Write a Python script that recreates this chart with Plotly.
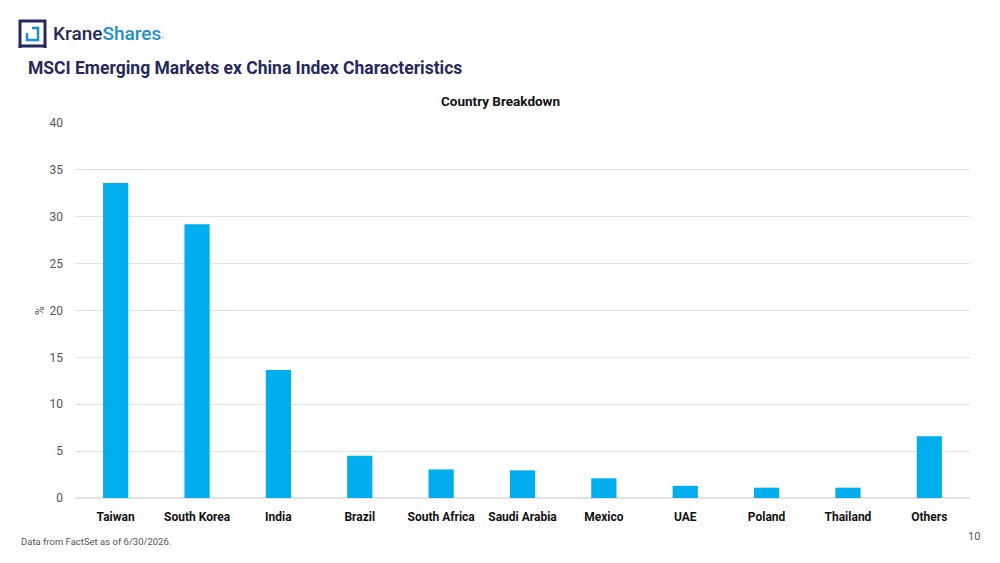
import plotly.graph_objects as go

countries = ["Taiwan", "South Korea", "India", "Brazil", "South Africa", "Saudi Arabia",
             "Mexico", "UAE", "Poland", "Thailand", "Others"]
weights = [33.6, 29.2, 13.65, 4.5, 3.05, 2.95, 2.1, 1.3, 1.1, 1.1, 6.6]
y_ticks = [0, 5, 10, 15, 20, 25, 30, 35, 40]

W, H = 1000, 563
L, R, T, B = 75, 30, 123, 65
PW, PH = W - L - R, H - T - B

def px(x):
    return (x - L) / PW

def py(y):
    return (H - B - y) / PH

NAVY = "#252a5e"
BLUE = "#00aeef"
FONT = "Roboto, Arial, sans-serif"

fig = go.Figure(go.Bar(
    x=countries, y=weights, marker=dict(color=BLUE, line=dict(width=0)),
    hoverinfo="x+y"
))

shapes = [
    dict(type="rect", xref="paper", yref="paper", x0=px(20), x1=px(45), y0=py(46), y1=py(21),
         line=dict(color=NAVY, width=3), fillcolor="white"),
    dict(type="path", xref="paper", yref="paper",
         path=f"M {px(27)},{py(33)} L {px(27)},{py(40)} L {px(38)},{py(40)} L {px(38)},{py(28)} L {px(32)},{py(28)}",
         line=dict(color="#1c8fd0", width=2.5)),
    dict(type="line", xref="paper", yref="paper", x0=px(20), x1=px(20), y0=py(48), y1=py(46),
         line=dict(color=NAVY, width=3)),
    dict(type="line", xref="paper", yref="paper", x0=px(45), x1=px(45), y0=py(48), y1=py(46),
         line=dict(color=NAVY, width=3)),
]

annotations = [
    dict(xref="paper", yref="paper", x=px(51), y=py(33), xanchor="left", yanchor="middle",
         text=f"<span style='color:{NAVY}'>Krane</span><span style='color:#1c8fd0'>Shares</span><span style='font-size:5px;color:#888'>™</span>",
         showarrow=False, font=dict(family=FONT, size=19, weight=500)),
    dict(xref="paper", yref="paper", x=px(26), y=py(68), xanchor="left", yanchor="middle",
         text="<b>MSCI Emerging Markets ex China Index Characteristics</b>",
         showarrow=False, font=dict(family=FONT, size=17.5, color=NAVY)),
    dict(xref="paper", yref="paper", x=px(500), y=py(101), xanchor="center", yanchor="middle",
         text="<b>Country Breakdown</b>",
         showarrow=False, font=dict(family=FONT, size=13.5, color="#111111")),
    dict(xref="paper", yref="paper", x=px(19), y=py(541), xanchor="left", yanchor="middle",
         text="Data from FactSet as of 6/30/2026.",
         showarrow=False, font=dict(family=FONT, size=9.5, color="#555555")),
    dict(xref="paper", yref="paper", x=px(982), y=py(536), xanchor="right", yanchor="middle",
         text="10",
         showarrow=False, font=dict(family=FONT, size=11, color="#555555")),
    dict(xref="paper", yref="paper", x=px(40), y=py(311), xanchor="center", yanchor="middle",
         text="%", textangle=-90,
         showarrow=False, font=dict(family=FONT, size=12, color="#555555")),
]

fig.update_layout(
    width=W, height=H,
    margin=dict(l=L, r=R, t=T, b=B, pad=0),
    paper_bgcolor="white", plot_bgcolor="white",
    font=dict(family=FONT, color="#555555"),
    bargap=0.69,
    showlegend=False,
    shapes=shapes,
    annotations=annotations,
    xaxis=dict(
        showgrid=False, showline=False, zeroline=False, ticks="",
        tickfont=dict(family=FONT, size=12, color="#111111", weight="bold"),
        ticklabelstandoff=10,
    ),
    yaxis=dict(
        range=[0, 40], tickvals=y_ticks, showgrid=True, gridcolor="#e3e3e3", gridwidth=1,
        zeroline=True, zerolinecolor="#e3e3e3", zerolinewidth=1.5, showline=False,
        tickfont=dict(family=FONT, size=12, color="#555555"),
        ticklabelstandoff=11,
    ),
)

fig.write_html("out.html")
